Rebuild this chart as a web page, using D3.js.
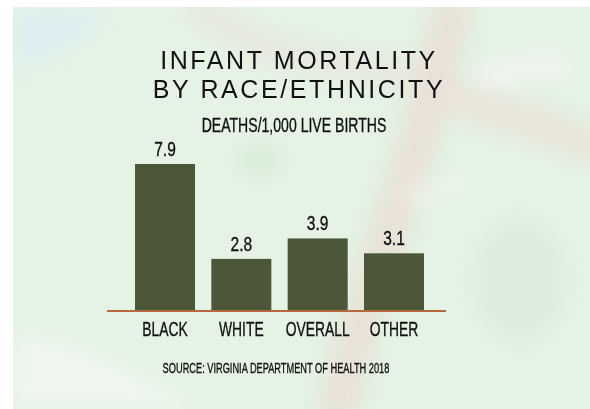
<!DOCTYPE html>
<html>
<head>
<meta charset="utf-8">
<script src="https://cdn.jsdelivr.net/npm/d3@7"></script>
<style>
  html, body { margin: 0; padding: 0; background: #fff; }
  svg { display: block; }
</style>
</head>
<body>
<svg id="chart" width="590" height="409"></svg>
<script>
var categories = ['BLACK', 'WHITE', 'OVERALL', 'OTHER'];
var values = [7.9, 2.8, 3.9, 3.1];
var titleLines = ['INFANT MORTALITY', 'BY RACE/ETHNICITY'];
var subtitle = 'DEATHS/1,000 LIVE BIRTHS';
var source = 'SOURCE: VIRGINIA DEPARTMENT OF HEALTH 2018';

var sans = '"Liberation Sans", Arial, sans-serif';
var svg = d3.select('#chart');

// no narrow face installed, so squeeze a normal one
function narrowText(sel, sx) {
	sel.attr('transform', function() {
		var t = d3.select(this);
		var cx = +t.attr('x');
		return 'translate(' + cx + ',0) scale(' + sx + ',1) translate(' + (-cx) + ',0)';
	})
	.attr('font-family', sans)
	.attr('stroke', '#111')
	.attr('stroke-width', 0.35)
	.attr('fill', '#111');
}

// watercolour-ish backdrop
var defs = svg.append('defs');
defs.append('filter').attr('id', 'blur')
	.attr('x', '-30%').attr('y', '-30%').attr('width', '160%').attr('height', '160%')
	.append('feGaussianBlur').attr('stdDeviation', 10);
defs.append('clipPath').attr('id', 'panel')
	.append('rect').attr('x', 13).attr('y', 7).attr('width', 577).attr('height', 402);

svg.append('rect').attr('x', 13).attr('y', 7).attr('width', 577).attr('height', 402)
	.attr('fill', '#e4f3e4');

var bg = svg.append('g').attr('clip-path', 'url(#panel)').append('g').attr('filter', 'url(#blur)');
bg.append('path')
	.attr('d', 'M455,0 C440,60 420,140 400,200 C380,260 355,330 335,420')
	.attr('fill', 'none').attr('stroke', '#eadcd2').attr('stroke-width', 40).attr('opacity', 0.7);
bg.append('path')
	.attr('d', 'M430,90 C480,110 540,120 600,150')
	.attr('fill', 'none').attr('stroke', '#ebded5').attr('stroke-width', 36).attr('opacity', 0.7);
bg.append('path')
	.attr('d', 'M440,70 C380,75 300,60 250,40 C220,25 200,10 190,0')
	.attr('fill', 'none').attr('stroke', '#ebe0d8').attr('stroke-width', 28).attr('opacity', 0.55);
bg.append('path')
	.attr('d', 'M480,80 C510,70 540,60 570,70')
	.attr('fill', 'none').attr('stroke', '#f3f5f0').attr('stroke-width', 22);
bg.append('path')
	.attr('d', 'M410,200 C430,190 450,185 470,180')
	.attr('fill', 'none').attr('stroke', '#f1f5ef').attr('stroke-width', 12);
bg.append('path')
	.attr('d', 'M13,7 L110,7 C90,40 60,60 13,70 Z')
	.attr('fill', '#ddeef0');
bg.append('path')
	.attr('d', 'M13,330 C80,340 140,370 200,409 L13,409 Z')
	.attr('fill', '#eef6ee');
bg.append('ellipse').attr('cx', 260).attr('cy', 160).attr('rx', 20).attr('ry', 10)
	.attr('fill', '#d3e8d3');
bg.append('ellipse').attr('cx', 520).attr('cy', 280).attr('rx', 45).attr('ry', 60)
	.attr('fill', '#dcecdc');

// titles
svg.append('g').selectAll('text').data(titleLines).join('text')
	.attr('x', 299)
	.attr('y', function(d, i) { return 69 + i * 29; })
	.attr('text-anchor', 'middle')
	.attr('font-family', sans)
	.attr('font-size', 25)
	.attr('letter-spacing', 2.6)
	.attr('fill', '#111')
	.text(function(d) { return d; });

svg.append('text')
	.attr('x', 294).attr('y', 132)
	.attr('text-anchor', 'middle')
	.attr('font-size', 21)
	.text(subtitle)
	.call(narrowText, 0.67);

var x = d3.scaleBand()
	.domain(categories)
	.range([135, 424])
	.paddingInner(0.214)
	.paddingOuter(0);

var y = d3.scaleLinear()
	.domain([0, d3.max(values)])
	.range([311, 164]);

var data = categories.map(function(c, i) { return { cat: c, val: values[i] }; });

svg.append('g').selectAll('rect').data(data).join('rect')
	.attr('x', function(d) { return x(d.cat); })
	.attr('y', function(d) { return y(d.val); })
	.attr('width', x.bandwidth())
	.attr('height', function(d) { return y(0) - y(d.val); })
	.attr('fill', '#4b5738');

svg.append('g').selectAll('text').data(data).join('text')
	.attr('x', function(d) { return x(d.cat) + x.bandwidth() / 2; })
	.attr('y', function(d) { return y(d.val) - 8; })
	.attr('text-anchor', 'middle')
	.attr('font-size', 21)
	.text(function(d) { return d.val.toFixed(1); })
	.call(narrowText, 0.74);

// baseline
svg.append('line')
	.attr('x1', 107).attr('x2', 446)
	.attr('y1', y(0)).attr('y2', y(0))
	.attr('stroke', '#b5683f').attr('stroke-width', 2);

var axis = d3.axisBottom(x).tickSize(0).tickPadding(0);
var gx = svg.append('g').attr('transform', 'translate(0,' + y(0) + ')').call(axis);
gx.select('.domain').remove();
gx.selectAll('text')
	.attr('dy', null)
	.attr('x', 0)
	.attr('y', 25)
	.attr('font-size', 21)
	.call(narrowText, 0.66);

svg.append('text')
	.attr('x', 276).attr('y', 373)
	.attr('text-anchor', 'middle')
	.attr('font-size', 14)
	.text(source)
	.call(narrowText, 0.66);
</script>
</body>
</html>
